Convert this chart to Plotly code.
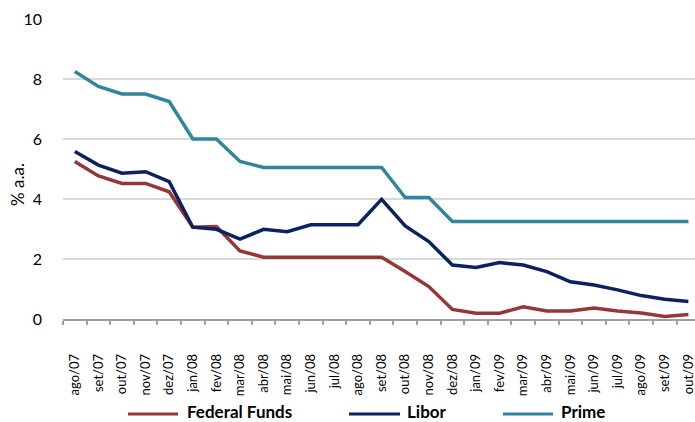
import plotly.graph_objects as go

# Monthly interest rates, % a.a.
months = [
    "ago/07", "set/07", "out/07", "nov/07", "dez/07",
    "jan/08", "fev/08", "mar/08", "abr/08", "mai/08", "jun/08",
    "jul/08", "ago/08", "set/08", "out/08", "nov/08", "dez/08",
    "jan/09", "fev/09", "mar/09", "abr/09", "mai/09", "jun/09",
    "jul/09", "ago/09", "set/09", "out/09",
]
federal_funds = [
    5.25, 4.77, 4.52, 4.52, 4.24,
    3.06, 3.08, 2.27, 2.06, 2.06, 2.06,
    2.06, 2.06, 2.06, 1.58, 1.08, 0.32,
    0.19, 0.19, 0.41, 0.27, 0.27, 0.37,
    0.27, 0.20, 0.08, 0.15,
]
libor = [
    5.58, 5.13, 4.86, 4.91, 4.58,
    3.06, 2.99, 2.66, 2.99, 2.91, 3.14,
    3.14, 3.14, 3.99, 3.10, 2.58, 1.80,
    1.72, 1.88, 1.80, 1.58, 1.24, 1.13,
    0.97, 0.78, 0.66, 0.58,
]
prime = [
    8.25, 7.75, 7.50, 7.50, 7.25,
    6.00, 6.00, 5.25, 5.05, 5.05, 5.05,
    5.05, 5.05, 5.05, 4.05, 4.05, 3.25,
    3.25, 3.25, 3.25, 3.25, 3.25, 3.25,
    3.25, 3.25, 3.25, 3.25,
]
series_names = ["Federal Funds", "Libor", "Prime"]
series_colors = ["#953735", "#0b2260", "#31859c"]
y_ticks = [0, 2, 4, 6, 8, 10]

W, H = 695, 422
L, T, PW, PH = 63, 19, 632, 300
CAT_W = 23.6
FONT = "Lato, 'Open Sans', sans-serif"


def px_x(px):
    return (px - L) / PW


def px_y(py):
    return (T + PH - py) / PH


fig = go.Figure()
for name, vals, color in zip(series_names, [federal_funds, libor, prime], series_colors):
    fig.add_trace(go.Scatter(
        x=months, y=vals, name=name, mode="lines",
        line=dict(color=color, width=3.5),
        showlegend=False,
    ))

# Legend drawn as line samples with bold labels beneath the axis
legend_items = [
    (128, 178, 185),
    (349, 400, 405),
    (503, 553, 559),
]
legend_y = 414
for (x0, x1, tx), name, color in zip(legend_items, series_names, series_colors):
    fig.add_shape(type="line", xref="paper", yref="paper",
                  x0=px_x(x0), x1=px_x(x1), y0=px_y(legend_y), y1=px_y(legend_y),
                  line=dict(color=color, width=3))
    fig.add_annotation(xref="paper", yref="paper", x=px_x(tx), y=px_y(411),
                       text=f"<b>{name}</b>", showarrow=False,
                       xanchor="left", yanchor="middle",
                       font=dict(family=FONT, size=17, color="#000000"))

# Y-axis title
fig.add_annotation(xref="paper", yref="paper", x=px_x(17), y=px_y(185),
                   text="% a.a.", textangle=-90, showarrow=False,
                   xanchor="center", yanchor="middle",
                   font=dict(family=FONT, size=17, color="#000000"))

fig.update_layout(
    width=W, height=H,
    margin=dict(l=L, r=W - L - PW, t=T, b=H - T - PH, pad=0),
    paper_bgcolor="#ffffff", plot_bgcolor="#ffffff",
    font=dict(family=FONT, color="#000000"),
)
fig.update_xaxes(
    type="category",
    range=[-0.5, -0.5 + PW / CAT_W],
    tickson="boundaries",
    ticks="outside", ticklen=4, tickwidth=1.5, tickcolor="#a0a0a0",
    showline=True, linecolor="#a0a0a0", linewidth=1.5,
    showgrid=False, zeroline=False,
    tickangle=-90, ticklabelstandoff=28,
    tickfont=dict(family=FONT, size=13, color="#000000"),
)
fig.update_yaxes(
    range=[0, 10], tickvals=y_ticks, ticktext=[str(v) for v in y_ticks],
    showgrid=True, gridcolor="#d9d9d9", gridwidth=1.5,
    showline=False, zeroline=False, ticks="",
    ticklabelstandoff=20,
    tickfont=dict(family=FONT, size=16, color="#000000"),
)

fig.write_html("out.html")
